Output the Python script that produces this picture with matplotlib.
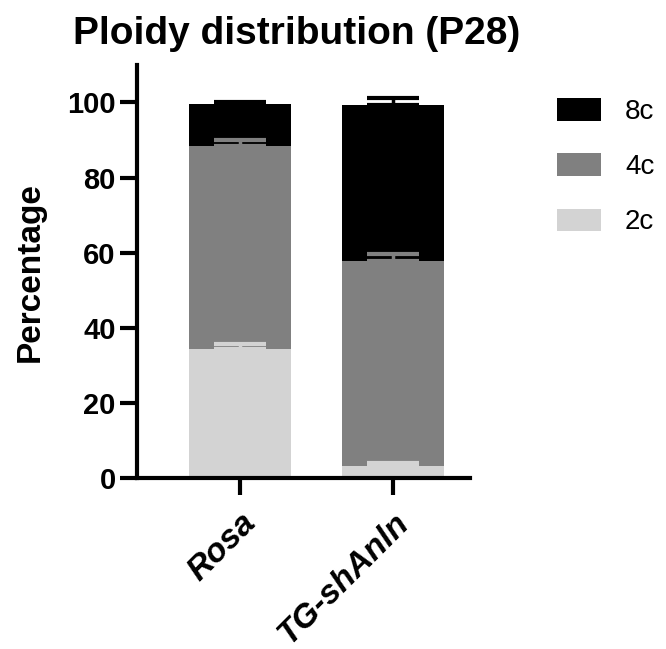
import matplotlib.pyplot as plt
import matplotlib.transforms as mtransforms
import numpy as np

plt.rcParams['font.family'] = ['Liberation Sans', 'DejaVu Sans']

groups = ["Rosa", "TG-shAnln"]
c2 = [34.3, 3.2]
c4 = [54.0, 54.7]
c8 = [11.2, 41.5]
c2_err = [1.4, 0.9]
c4_err = [1.7, 1.8]
c8_err = [0.6, 1.7]

fig = plt.figure(figsize=(6.66, 6.49), dpi=100)
ax = fig.add_axes([0.205, 0.263, 0.501, 0.637])

x = np.arange(len(groups))
w = 0.67
colors = {"2c": "#d3d3d3", "4c": "#808080", "8c": "#000000"}

bottom = np.zeros(len(groups))
series = [("2c", c2, c2_err), ("4c", c4, c4_err), ("8c", c8, c8_err)]
handles = {}
for name, vals, err in series:
    vals = np.array(vals)
    b = ax.bar(x, vals, w, bottom=bottom, color=colors[name], label=name, zorder=2)
    handles[name] = b
    top = bottom + vals
    ax.errorbar(x, top, yerr=[np.zeros(len(groups)), err], fmt="none",
                ecolor=colors[name], elinewidth=2.5, capsize=19, capthick=3, zorder=3)
    bottom = top

ax.set_xlim(-0.675, 1.503)
ax.set_ylim(0, 110)
ax.set_yticks([0, 20, 40, 60, 80, 100])
ax.set_xticks(x)
ax.set_xticklabels(groups, rotation=45, ha="right", rotation_mode="anchor",
                   fontsize=24, fontweight="bold", fontstyle="italic")
# nudge rotated labels a bit left
shift = mtransforms.ScaledTranslation(-7 / 100, 0, fig.dpi_scale_trans)
for lab in ax.get_xticklabels():
    lab.set_transform(lab.get_transform() + shift)
for lab in ax.get_yticklabels():
    lab.set_fontsize(21)
    lab.set_fontweight("bold")
ax.set_ylabel("Percentage", fontsize=24, fontweight="bold", labelpad=15)
ax.set_title("Ploidy distribution (P28)", fontsize=28, fontweight="bold", pad=15, x=0.48)

for s in ["top", "right"]:
    ax.spines[s].set_visible(False)
for s in ["left", "bottom"]:
    ax.spines[s].set_linewidth(3)
ax.tick_params(width=3, length=12, direction="out", pad=3)
ax.tick_params(axis="x", pad=9)

fig.legend([handles["8c"], handles["4c"], handles["2c"]], ["8c", "4c", "2c"],
           loc="upper left", bbox_to_anchor=(0.799, 0.887), frameon=False,
           fontsize=20, handlelength=1.58, handleheight=0.86, labelspacing=1.02,
           handletextpad=0.86)

fig.savefig("out.png", dpi=100)
